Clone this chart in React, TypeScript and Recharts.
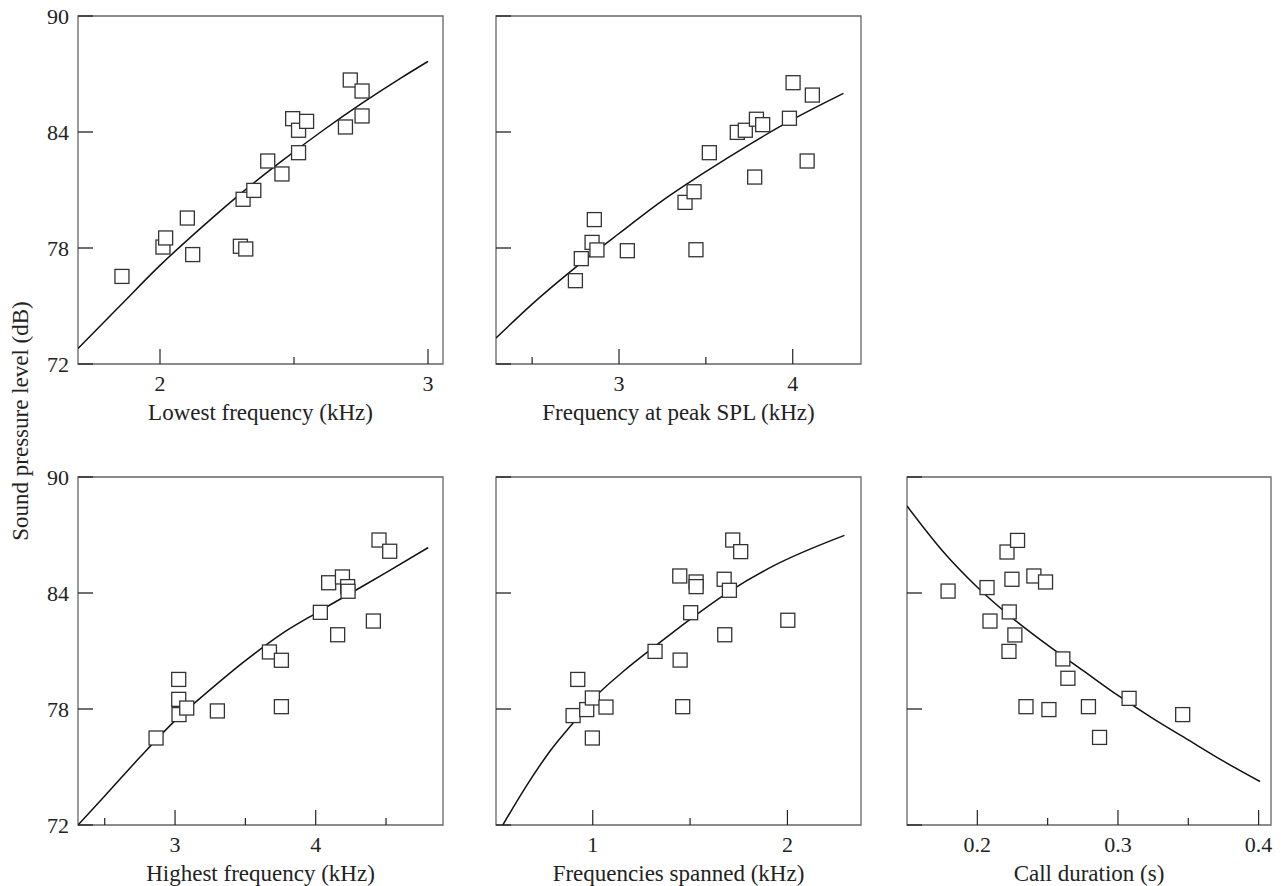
import React from "react";
import { ComposedChart, Line, Scatter, XAxis, YAxis, ReferenceArea } from "recharts";

const FONT = '"Liberation Serif", "DejaVu Serif", serif';
const INK = "#222";

// y axis shared by all panels
const yTicks = [72, 78, 84, 90];
const yDomain: [number, number] = [72, 90];

// panel 1: lowest frequency (kHz)
const lowestX = [1.858, 2.011, 2.021, 2.102, 2.122, 2.3, 2.32, 2.31, 2.35, 2.402, 2.455, 2.495, 2.517, 2.547, 2.517, 2.692, 2.71, 2.754, 2.754];
const lowestY = [76.53, 78.05, 78.52, 79.55, 77.66, 78.09, 77.95, 80.52, 80.98, 82.5, 81.83, 84.69, 84.09, 84.55, 82.93, 84.26, 86.69, 86.12, 84.83];
const lowestFitX = [1.694, 1.85, 2.0, 2.15, 2.3, 2.45, 2.6, 2.75, 2.9, 3.0];
const lowestFitY = [72.8, 75.0, 77.1, 79.0, 80.8, 82.45, 84.0, 85.45, 86.8, 87.65];

// panel 2: frequency at peak SPL (kHz)
const peakX = [2.749, 2.783, 2.845, 2.873, 2.858, 3.048, 3.38, 3.432, 3.443, 3.52, 3.681, 3.727, 3.791, 3.827, 3.781, 3.981, 4.002, 4.113, 4.083];
const peakY = [76.31, 77.45, 78.29, 77.9, 79.47, 77.86, 80.36, 80.91, 77.91, 82.93, 83.98, 84.09, 84.66, 84.38, 81.67, 84.71, 86.55, 85.91, 82.5];
const peakFitX = [2.292, 2.5, 2.75, 3.0, 3.25, 3.5, 3.75, 4.0, 4.292];
const peakFitY = [73.34, 75.1, 77.0, 78.75, 80.45, 81.95, 83.35, 84.65, 86.0];

// panel 3: highest frequency (kHz)
const highX = [2.865, 3.026, 3.026, 3.028, 3.083, 3.301, 3.671, 3.756, 3.756, 4.033, 4.092, 4.19, 4.227, 4.23, 4.156, 4.41, 4.45, 4.526];
const highY = [76.5, 79.53, 78.5, 77.71, 78.05, 77.9, 80.95, 80.52, 78.12, 83.0, 84.53, 84.83, 84.33, 84.09, 81.84, 82.55, 86.74, 86.16];
const highFitX = [2.31, 2.5, 2.75, 3.0, 3.25, 3.5, 3.75, 4.0, 4.25, 4.5, 4.8];
const highFitY = [72.0, 73.5, 75.5, 77.4, 79.0, 80.5, 81.85, 82.95, 84.0, 85.05, 86.35];

// panel 4: frequencies spanned (kHz)
const spanX = [0.899, 0.923, 0.969, 0.998, 0.998, 1.068, 1.32, 1.449, 1.462, 1.447, 1.531, 1.531, 1.503, 1.675, 1.702, 1.678, 1.719, 1.76, 2.002];
const spanY = [77.66, 79.53, 77.97, 78.57, 76.5, 78.1, 80.98, 80.53, 78.12, 84.88, 84.57, 84.33, 82.98, 84.71, 84.14, 81.84, 86.74, 86.14, 82.59];
const spanFitX = [0.538, 0.661, 0.781, 0.901, 1.0, 1.158, 1.32, 1.5, 1.705, 1.928, 2.293];
const spanFitY = [72.0, 74.05, 75.83, 77.3, 78.5, 79.95, 81.25, 82.64, 84.1, 85.4, 86.98];

// panel 5: call duration (s)
const durX = [0.1792, 0.2069, 0.209, 0.2211, 0.2286, 0.2246, 0.2227, 0.2267, 0.2225, 0.2402, 0.2485, 0.2346, 0.2509, 0.2608, 0.2644, 0.279, 0.2869, 0.3079, 0.346];
const durY = [84.1, 84.28, 82.55, 86.12, 86.72, 84.71, 83.02, 81.83, 80.98, 84.88, 84.57, 78.12, 77.97, 80.59, 79.59, 78.12, 76.53, 78.55, 77.71];
const durFitX = [0.15, 0.175, 0.2, 0.225, 0.25, 0.275, 0.3, 0.325, 0.35, 0.375, 0.401];
const durFitY = [88.5, 86.2, 84.3, 82.7, 81.3, 80.0, 78.7, 77.5, 76.4, 75.3, 74.25];

const pairs = (xs: number[], ys: number[]) => xs.map((x, i) => ({ x, y: ys[i] }));

const Square = (props: any) => {
  const { cx, cy } = props;
  if (cx == null || cy == null) return null;
  return <rect x={cx - 7} y={cy - 7} width={14} height={14} fill="#fff" stroke="#333" strokeWidth={1.3} />;
};

type PanelProps = {
  left: number;
  top: number;
  plotWidth: number;
  plotHeight: number;
  domain: [number, number];
  majorTicks: number[];
  minorTicks: number[];
  tickLabels: string[];
  xLabel: string;
  showYLabels: boolean;
  points: { x: number; y: number }[];
  fit: { x: number; y: number }[];
};

const Y_AXIS_W = 70;
const MARGIN = { top: 24, right: 10, left: 0, bottom: 0 };
const X_AXIS_H = 72;

function Panel(p: PanelProps) {
  const width = Y_AXIS_W + p.plotWidth + MARGIN.right;
  const height = MARGIN.top + p.plotHeight + X_AXIS_H;

  const xTick = (t: any) => {
    const i = p.majorTicks.indexOf(t.payload.value);
    const major = i >= 0;
    return (
      <g>
        <line x1={t.x} x2={t.x} y1={t.y} y2={t.y - (major ? 15 : 7)} stroke={INK} strokeWidth={1.2} />
        {major && (
          <text x={t.x} y={t.y + 27} textAnchor="middle" fontSize={22} fill={INK}>
            {p.tickLabels[i]}
          </text>
        )}
      </g>
    );
  };

  const yTick = (t: any) => (
    <g>
      <line x1={t.x} x2={t.x + 15} y1={t.y} y2={t.y} stroke={INK} strokeWidth={1.3} />
      {p.showYLabels && (
        <text x={t.x - 9} y={t.y} dy="0.36em" textAnchor="end" fontSize={22} fill={INK}>
          {t.payload.value}
        </text>
      )}
    </g>
  );

  return (
    <div style={{ position: "absolute", left: p.left - Y_AXIS_W, top: p.top - MARGIN.top }}>
      <ComposedChart width={width} height={height} margin={MARGIN}>
        <XAxis
          type="number"
          dataKey="x"
          domain={p.domain}
          allowDataOverflow
          ticks={[...p.majorTicks, ...p.minorTicks].sort((a, b) => a - b)}
          interval={0}
          height={X_AXIS_H}
          axisLine={false}
          tickLine={false}
          tickSize={0}
          tickMargin={0}
          tick={xTick}
          label={{ value: p.xLabel, position: "insideTop", offset: 40, fontSize: 23, fill: INK }}
        />
        <YAxis
          type="number"
          dataKey="y"
          domain={yDomain}
          allowDataOverflow
          ticks={yTicks}
          interval={0}
          width={Y_AXIS_W}
          axisLine={false}
          tickLine={false}
          tickSize={0}
          tickMargin={0}
          tick={yTick}
        />
        <ReferenceArea
          x1={p.domain[0]}
          x2={p.domain[1]}
          y1={yDomain[0]}
          y2={yDomain[1]}
          fill="none"
          fillOpacity={0}
          stroke="#666"
          strokeWidth={1.3}
        />
        <Line
          data={p.fit}
          dataKey="y"
          type="monotone"
          dot={false}
          activeDot={false}
          stroke="#111"
          strokeWidth={1.5}
          isAnimationActive={false}
        />
        <Scatter data={p.points} dataKey="y" shape={Square} isAnimationActive={false} />
      </ComposedChart>
    </div>
  );
}

export default function App() {
  return (
    <div
      style={{
        position: "absolute",
        left: 0,
        top: 0,
        width: 1284,
        height: 886,
        background: "#fff",
        fontFamily: FONT,
        overflow: "hidden",
      }}
    >
      <svg width={44} height={886} style={{ position: "absolute", left: 0, top: 0 }}>
        <text transform="translate(28,421) rotate(-90)" textAnchor="middle" fontSize={23} fill={INK}>
          Sound pressure level (dB)
        </text>
      </svg>

      <Panel
        left={78}
        top={16}
        plotWidth={365}
        plotHeight={348}
        domain={[1.694, 3.056]}
        majorTicks={[2, 3]}
        minorTicks={[2.5]}
        tickLabels={["2", "3"]}
        xLabel="Lowest frequency (kHz)"
        showYLabels
        points={pairs(lowestX, lowestY)}
        fit={pairs(lowestFitX, lowestFitY)}
      />
      <Panel
        left={496}
        top={16}
        plotWidth={365}
        plotHeight={348}
        domain={[2.292, 4.393]}
        majorTicks={[3, 4]}
        minorTicks={[2.5, 3.5]}
        tickLabels={["3", "4"]}
        xLabel="Frequency at peak SPL (kHz)"
        showYLabels={false}
        points={pairs(peakX, peakY)}
        fit={pairs(peakFitX, peakFitY)}
      />
      <Panel
        left={78}
        top={477}
        plotWidth={365}
        plotHeight={348}
        domain={[2.31, 4.905]}
        majorTicks={[3, 4]}
        minorTicks={[2.5, 3.5, 4.5]}
        tickLabels={["3", "4"]}
        xLabel="Highest frequency (kHz)"
        showYLabels
        points={pairs(highX, highY)}
        fit={pairs(highFitX, highFitY)}
      />
      <Panel
        left={496}
        top={477}
        plotWidth={365}
        plotHeight={348}
        domain={[0.503, 2.378]}
        majorTicks={[1, 2]}
        minorTicks={[1.5]}
        tickLabels={["1", "2"]}
        xLabel="Frequencies spanned (kHz)"
        showYLabels={false}
        points={pairs(spanX, spanY)}
        fit={pairs(spanFitX, spanFitY)}
      />
      <Panel
        left={907}
        top={477}
        plotWidth={364}
        plotHeight={348}
        domain={[0.15, 0.4088]}
        majorTicks={[0.2, 0.3, 0.4]}
        minorTicks={[0.25, 0.35]}
        tickLabels={["0.2", "0.3", "0.4"]}
        xLabel="Call duration (s)"
        showYLabels={false}
        points={pairs(durX, durY)}
        fit={pairs(durFitX, durFitY)}
      />
    </div>
  );
}
